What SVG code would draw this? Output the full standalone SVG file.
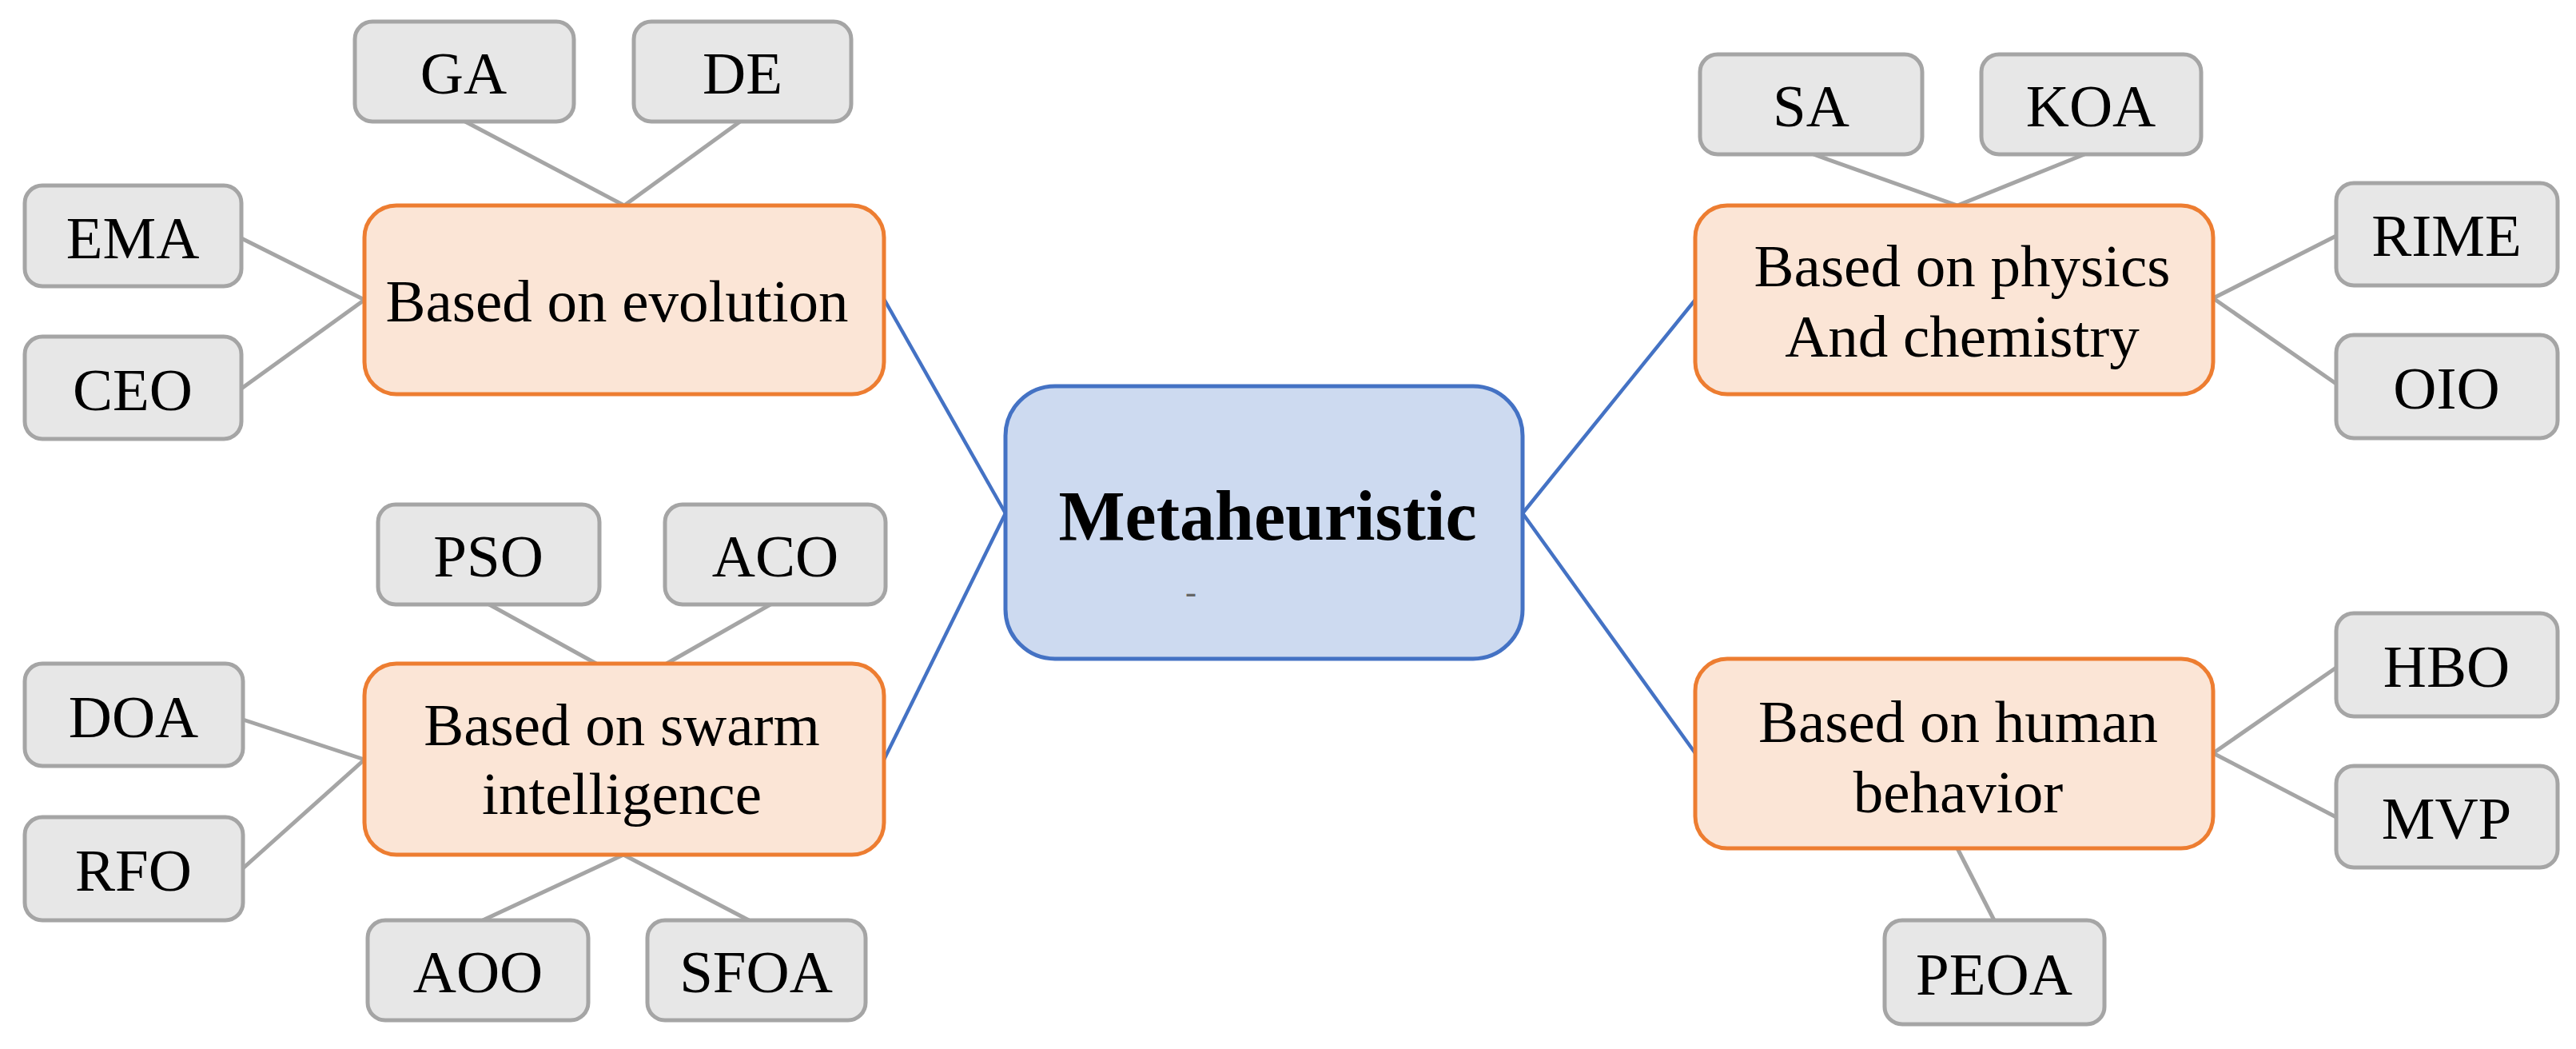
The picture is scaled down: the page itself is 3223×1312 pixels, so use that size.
<svg xmlns="http://www.w3.org/2000/svg" width="3223" height="1312" viewBox="0 0 3223 1312">
<style>
.leaf rect{fill:#e7e7e7;stroke:#a5a5a5;stroke-width:5}
.cat rect{fill:#fbe5d6;stroke:#ed7d31;stroke-width:5}
.root rect{fill:#cddaf0;stroke:#4472c4;stroke-width:5}
text{font-family:"Liberation Serif","Times New Roman",serif;fill:#000;text-anchor:middle}
.leaf text{font-size:75px}
.cat text{font-size:75px}
.root text{font-size:88px;font-weight:bold}
.root .dash{font-size:42px;font-weight:normal;fill:#666}
.g{stroke:#a5a5a5;stroke-width:5;fill:none}
.b{stroke:#4472c4;stroke-width:4.5;fill:none}
</style>
<rect width="3223" height="1312" fill="#fff"/>
<g id="connectors">
<line class="g" x1="582" y1="152" x2="781" y2="257"/>
<line class="g" x1="926" y1="152" x2="781" y2="257"/>
<line class="g" x1="302" y1="298" x2="456" y2="375"/>
<line class="g" x1="302" y1="486" x2="456" y2="375"/>
<line class="g" x1="612" y1="756" x2="746" y2="830"/>
<line class="g" x1="964" y1="756" x2="834" y2="830"/>
<line class="g" x1="304" y1="900" x2="456" y2="950"/>
<line class="g" x1="304" y1="1086" x2="456" y2="950"/>
<line class="g" x1="604" y1="1151" x2="780" y2="1069"/>
<line class="g" x1="937" y1="1151" x2="780" y2="1069"/>
<line class="g" x1="2269" y1="193" x2="2449" y2="257"/>
<line class="g" x1="2608" y1="193" x2="2449" y2="257"/>
<line class="g" x1="2923" y1="295" x2="2769" y2="373"/>
<line class="g" x1="2923" y1="480" x2="2769" y2="373"/>
<line class="g" x1="2923" y1="835" x2="2769" y2="942"/>
<line class="g" x1="2923" y1="1022" x2="2769" y2="942"/>
<line class="g" x1="2449" y1="1061" x2="2495" y2="1151"/>
<line class="b" x1="1106" y1="374" x2="1258" y2="642"/>
<line class="b" x1="1106" y1="950" x2="1258" y2="642"/>
<line class="b" x1="2121" y1="375" x2="1905" y2="642"/>
<line class="b" x1="2121" y1="942" x2="1905" y2="642"/>
</g>
<g id="root" class="root"><rect x="1258" y="483" width="647" height="341" rx="62"/><text x="1586" y="675">Metaheuristic</text><text class="dash" x="1490" y="754">-</text></g>
<g id="evolution" class="cat"><rect x="456" y="257" width="650" height="236" rx="40"/><text x="772" y="402">Based on evolution</text></g>
<g id="swarm" class="cat"><rect x="456" y="830" width="650" height="239" rx="40"/><text x="778" y="932">Based on swarm</text><text x="778" y="1018">intelligence</text></g>
<g id="physics" class="cat"><rect x="2121" y="257" width="648" height="236" rx="40"/><text x="2455" y="358">Based on physics</text><text x="2455" y="446">And chemistry</text></g>
<g id="human" class="cat"><rect x="2121" y="824" width="648" height="237" rx="40"/><text x="2450" y="928">Based on human</text><text x="2450" y="1016">behavior</text></g>
<g id="GA" class="leaf"><rect x="444" y="27" width="274" height="125" rx="22"/><text x="580" y="117">GA</text></g>
<g id="DE" class="leaf"><rect x="793" y="27" width="272" height="125" rx="22"/><text x="929" y="117">DE</text></g>
<g id="EMA" class="leaf"><rect x="31" y="232" width="271" height="126" rx="22"/><text x="166" y="323">EMA</text></g>
<g id="CEO" class="leaf"><rect x="31" y="421" width="271" height="128" rx="22"/><text x="166" y="513">CEO</text></g>
<g id="PSO" class="leaf"><rect x="473" y="631" width="277" height="125" rx="22"/><text x="611" y="721">PSO</text></g>
<g id="ACO" class="leaf"><rect x="832" y="631" width="276" height="125" rx="22"/><text x="970" y="721">ACO</text></g>
<g id="DOA" class="leaf"><rect x="31" y="830" width="273" height="128" rx="22"/><text x="167" y="922">DOA</text></g>
<g id="RFO" class="leaf"><rect x="31" y="1022" width="273" height="129" rx="22"/><text x="167" y="1114">RFO</text></g>
<g id="AOO" class="leaf"><rect x="460" y="1151" width="276" height="125" rx="22"/><text x="598" y="1241">AOO</text></g>
<g id="SFOA" class="leaf"><rect x="810" y="1151" width="273" height="125" rx="22"/><text x="946" y="1241">SFOA</text></g>
<g id="SA" class="leaf"><rect x="2127" y="68" width="278" height="125" rx="22"/><text x="2266" y="158">SA</text></g>
<g id="KOA" class="leaf"><rect x="2479" y="68" width="275" height="125" rx="22"/><text x="2616" y="158">KOA</text></g>
<g id="RIME" class="leaf"><rect x="2923" y="229" width="277" height="128" rx="22"/><text x="3061" y="320">RIME</text></g>
<g id="OIO" class="leaf"><rect x="2923" y="419" width="277" height="129" rx="22"/><text x="3061" y="511">OIO</text></g>
<g id="HBO" class="leaf"><rect x="2923" y="767" width="277" height="129" rx="22"/><text x="3061" y="859">HBO</text></g>
<g id="MVP" class="leaf"><rect x="2923" y="958" width="277" height="127" rx="22"/><text x="3061" y="1049">MVP</text></g>
<g id="PEOA" class="leaf"><rect x="2358" y="1151" width="275" height="130" rx="22"/><text x="2495" y="1244">PEOA</text></g>
</svg>
